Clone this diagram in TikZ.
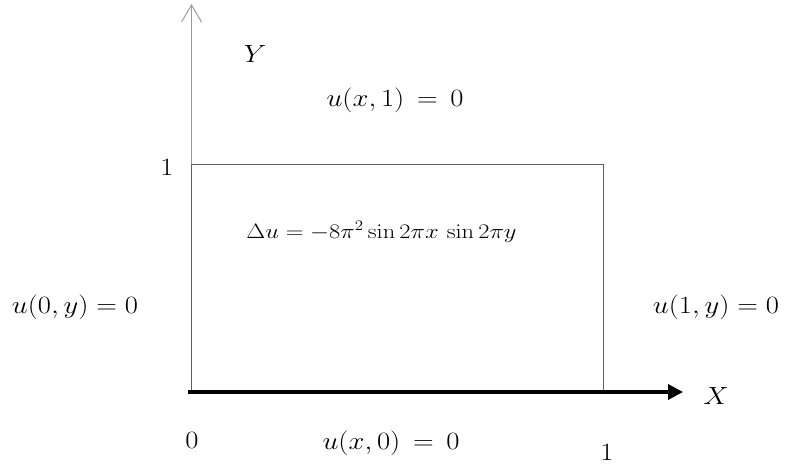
\documentclass[tikz,border=0pt]{standalone}
\usetikzlibrary{arrows.meta}
\newcommand{\wider}[1]{\scalebox{1.15}[1]{#1}}
\begin{document}
\begin{tikzpicture}[x=1pt,y=1pt,
  lbl/.style={inner sep=0pt,font=\fontsize{24}{28}\selectfont},
  eqlbl/.style={inner sep=0pt,font=\fontsize{20}{24}\selectfont},
  yaxis/.style={draw={rgb,255:red,155;green,155;blue,155},line width=1.5pt,
    -{Straight Barb[length=17pt,width=20pt,line width=1pt]}},
  xaxis/.style={draw=black,line width=3.5pt,-{Triangle[length=15pt,width=15pt]}},
  regionbox/.style={draw={rgb,255:red,95;green,95;blue,95},line width=1.2pt}]
\useasboundingbox (0,0) rectangle (786,466);
\coordinate (O) at (191.5,74);
\coordinate (Ytip) at (191.5,462);
\coordinate (Xstart) at (188,74);
\coordinate (Xtip) at (683,74);
\coordinate (TL) at (191.5,301.5);
\coordinate (TR) at (603.5,301.5);
\coordinate (BR) at (603.5,74);
\draw[yaxis] (O) -- (Ytip);
\draw[regionbox] (O) -- (TL) -- (TR) -- (BR);
\draw[xaxis] (Xstart) -- (Xtip);
\node[lbl] (ylab) at (255,412) {\wider{$Y$}};
\node[lbl] (top) at (395,366) {\wider{$u(x,1)\,=\,0$}};
\node[lbl] (one-y) at (167,299) {\wider{$1$}};
\node[eqlbl] (pde) at (381.5,234) {\scalebox{1.18}[1]{$\Delta u = -8\pi^2\sin 2\pi x\,\sin 2\pi y$}};
\node[lbl] (left) at (75,159) {\wider{$u(0,y) = 0$}};
\node[lbl] (right) at (716,159) {\wider{$u(1,y) = 0$}};
\node[lbl] (xlab) at (716,70) {\wider{$X$}};
\node[lbl] (zero) at (192,26) {\wider{$0$}};
\node[lbl] (bottom) at (391,23) {\wider{$u(x,0)\,=\,0$}};
\node[lbl] (one-x) at (607,14) {\wider{$1$}};
\end{tikzpicture}
\end{document}
